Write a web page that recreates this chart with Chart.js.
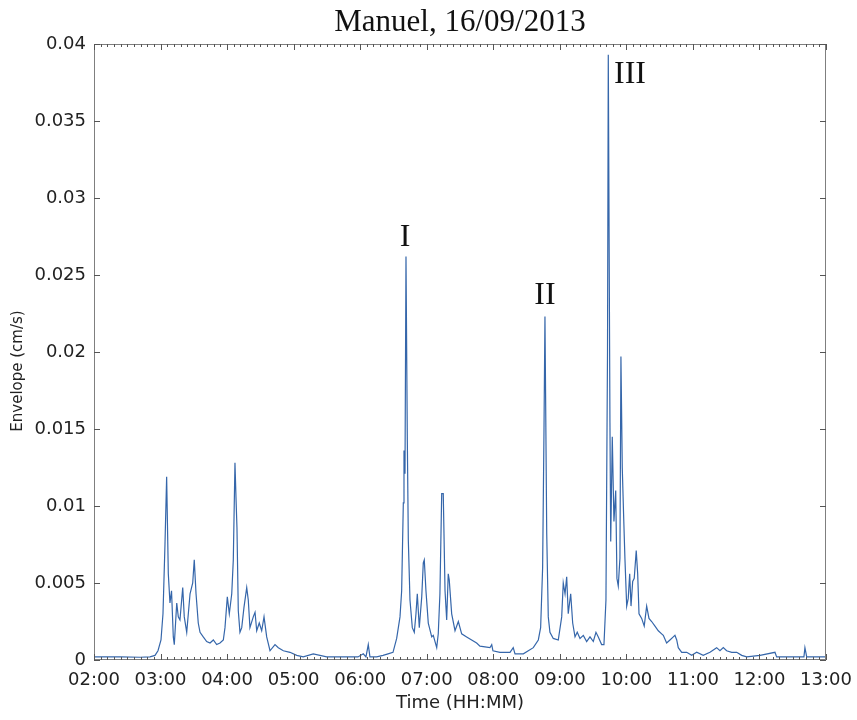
<!DOCTYPE html>
<html>
<head>
<meta charset="utf-8">
<script src="https://cdn.jsdelivr.net/npm/chart.js@4.4.1/dist/chart.umd.min.js"></script>
<style>
html, body { margin: 0; padding: 0; background: #fff; }
canvas { display: block; }
</style>
</head>
<body>
<canvas id="graficoEnvolvente" width="857" height="720"></canvas>
<script>
// tiempo en minutos desde las 00:00
const minutos = [
  120, 143.4, 161.5, 170.5, 175.0, 177.7, 180.4, 182.2, 184.0, 185.5,
  187.0, 188.5, 189.9, 191.5, 192.4, 194.6, 196.0, 197.5, 200.0, 201.4,
  203.6, 206.6, 209.0, 210.4, 212.0, 214.0, 215.6, 218.5, 221.6, 224.6,
  227.6, 230.6, 233.6, 236.6, 238.1, 240.2, 242.0, 244.2, 245.6, 247.1,
  248.0, 248.9, 250.1, 251.6, 253.2, 255.2, 257.7, 259.1, 260.6, 263.6,
  265.2, 266.7, 269.0, 271.2, 273.3, 275.7, 278.7, 283.2, 286.2, 290.7,
  296.7, 302.8, 308.7, 317.7, 329.8, 344.8, 358.0, 362.8, 365.2, 367.3,
  368.8, 374.9, 380.6, 385.1, 389.6, 392.9, 395.9, 397.4, 398.9, 399.5,
  400.4, 401.3, 402.5, 403.4, 404.9, 407.0, 408.8, 410.3, 411.5, 413.3,
  415.5, 416.9, 417.8, 419.3, 421.4, 424.5, 425.9, 429.0, 430.4, 431.9,
  433.5, 434.9, 436.5, 438.0, 439.4, 440.3, 442.5, 445.5, 448.5, 451.5,
  456.0, 460.5, 465.0, 468.0, 477.0, 478.6, 479.7, 486.0, 495.1, 498.0,
  499.6, 507.1, 511.6, 516.1, 520.6, 522.7, 524.5, 525.7, 526.6, 528.2,
  529.6, 531.1, 534.1, 538.6, 541.7, 543.1, 544.7, 546.2, 547.6, 549.8,
  551.6, 553.7, 555.7, 558.2, 561.2, 564.2, 567.2, 570.2, 572.6, 574.7,
  577.7, 579.8, 581.6, 583.0, 583.7, 585.2, 585.9, 587.3, 588.8, 590.4,
  591.5, 592.7, 594.2, 595.1, 596.3, 597.6, 598.7, 600.3, 601.7, 603.0,
  604.2, 605.7, 607.1, 608.9, 610.2, 611.4, 613.8, 616.1, 618.3, 620.4,
  622.8, 625.8, 628.8, 631.8, 633.3, 636.3, 639.3, 642.3, 643.8, 645.4,
  646.8, 649.9, 654.4, 658.9, 663.4, 669.3, 675.4, 681.4, 684.4, 687.4,
  690.4, 695.0, 699.5, 704.0, 708.5, 720.5, 734.0, 735.5, 750.2, 760.1,
  761.0, 762.6, 780
];

// envolvente (cm/s)
const envolvente = [
  .0002, .0002, .00018, .0002, .0003, .0006, .0013, .003, .0075, .0119,
  .0056, .0037, .0045, .0015, .001, .0037, .0028, .0026, .0047, .0028,
  .0018, .0043, .005, .0065, .0043, .0024, .0018, .0015, .0012, .0011,
  .0013, .001, .0011, .0013, .0021, .0041, .003, .0043, .0065, .0128,
  .0106, .0086, .0032, .0018, .0021, .0034, .0047, .0039, .0021, .0028,
  .0031, .0019, .0024, .0019, .0028, .0015, .0006, .001, .0008, .0006,
  .0005, .0003, .0002, .0004, .0002, .0002, .0002, .0004, .0002, .001,
  .0002, .0002, .0003, .0004, .0005, .0014, .0028, .0045, .0102, .0136,
  .0121, .0262, .0143, .0078, .0039, .0021, .0018, .003, .0043, .0021,
  .0041, .0063, .0065, .0045, .0024, .0015, .0016, .0008, .0017, .0043,
  .0108, .0108, .0045, .0026, .0056, .0052, .003, .0019, .0025, .0017,
  .0015, .0013, .0011, .0009, .0008, .001, .0006, .0005, .0005, .0008,
  .0004, .0004, .0006, .0008, .0013, .0021, .006, .0147, .0223, .0082,
  .0028, .0018, .0014, .0013, .0028, .005, .0043, .0054, .003, .0043,
  .0024, .0015, .0018, .0014, .0016, .0012, .0015, .0012, .0018, .0015,
  .001, .001, .0039, .02, .0393, .0154, .0077, .0145, .009, .011,
  .0053, .0048, .0066, .0197, .0125, .0092, .0066, .0035, .004, .0056,
  .0035, .0051, .0053, .0071, .0056, .003, .0027, .0022, .0035, .0027,
  .0025, .0022, .0019, .0017, .0016, .0011, .0013, .0015, .0016, .0013,
  .0008, .0005, .0005, .0003, .0005, .0003, .0005, .0008, .0006, .0008,
  .0006, .0005, .0005, .0003, .0002, .0003, .0005, .0002, .0002, .0002,
  .0008, .0002, .0002
];

const ticksY = [0, 0.005, 0.01, 0.015, 0.02, 0.025, 0.03, 0.035, 0.04];
const minX = 120, maxX = 780, pasoMayor = 60, pasoMenor = 6;

// etiquetas de los eventos
const eventos = ['I', 'II', 'III'];
const eventosX = [400.4, 526.6, 603.3];
const eventosY = [0.0269, 0.0231, 0.0375];

const titulo = 'Manuel, 16/09/2013';
const tituloY = 'Envelope (cm/s)';

function hhmm(m){
    const h = Math.floor(m / 60), mm = Math.round(m % 60);
    return String(h).padStart(2, '0') + ':' + String(mm).padStart(2, '0');
}

const marcoPlugin = {
    id: 'marco',
    afterDatasetsDraw(chart){
        const {ctx, chartArea: a, scales: {x, y}} = chart;
        ctx.save();
        ctx.strokeStyle = '#7f7f7f';
        ctx.lineWidth = 1;
        ctx.strokeRect(a.left + 0.5, a.top + 0.5, a.right - a.left - 1, a.bottom - a.top - 1);

        ctx.strokeStyle = '#555';
        ctx.beginPath();
        for(let m = minX; m <= maxX; m += pasoMenor){
            const px = Math.round(x.getPixelForValue(m)) + 0.5;
            const largo = (m % pasoMayor === 0) ? 6 : 3;
            ctx.moveTo(px, a.bottom); ctx.lineTo(px, a.bottom - largo);
            ctx.moveTo(px, a.top); ctx.lineTo(px, a.top + largo);
        }
        ticksY.forEach(v => {
            const py = Math.round(y.getPixelForValue(v)) + 0.5;
            ctx.moveTo(a.left, py); ctx.lineTo(a.left + 6, py);
            ctx.moveTo(a.right, py); ctx.lineTo(a.right - 6, py);
        });
        ctx.stroke();

        /* titulo y etiquetas */
        ctx.fillStyle = '#111';
        ctx.textAlign = 'center';
        ctx.textBaseline = 'alphabetic';
        ctx.font = '31px "Liberation Serif", "DejaVu Serif", serif';
        ctx.fillText(titulo, (a.left + a.right) / 2, 31);
        ctx.font = '32px "Liberation Serif", "DejaVu Serif", serif';
        eventos.forEach((t, i) => {
            ctx.fillText(t, x.getPixelForValue(eventosX[i]), y.getPixelForValue(eventosY[i]));
        });

        // titulo del eje Y
        ctx.fillStyle = '#222';
        ctx.font = '15px "DejaVu Sans", sans-serif';
        ctx.textBaseline = 'middle';
        ctx.translate(18, 371);
        ctx.rotate(-Math.PI / 2);
        ctx.fillText(tituloY, 0, 0);
        ctx.restore();
    }
};

new Chart(document.getElementById('graficoEnvolvente'), {
    type: 'line',
    data: {
        datasets: [{
            label: 'Envelope',
            data: minutos.map((m, i) => ({x: m, y: envolvente[i]})),
            borderColor: '#3566aa',
            borderWidth: 1.2,
            pointRadius: 0,
            tension: 0,
            fill: false
        }]
    },
    options: {
        responsive: false,
        animation: false,
        layout: {
            padding: {top: 44, right: 31, bottom: 0, left: 0}
        },
        plugins: {
            legend: {display: false},
            tooltip: {enabled: false},
            title: {display: false}
        },
        scales: {
            x: {
                type: 'linear',
                min: minX,
                max: maxX,
                afterFit: s => { s.height = 60; s.paddingLeft = 0; s.paddingRight = 0; },
                grid: {display: false, drawTicks: false},
                border: {display: false},
                ticks: {
                    stepSize: pasoMayor,
                    padding: 10,
                    maxRotation: 0,
                    color: '#222',
                    font: {family: '"DejaVu Sans", sans-serif', size: 18},
                    callback: v => hhmm(v)
                },
                title: {
                    display: true,
                    text: 'Time (HH:MM)',
                    color: '#222',
                    padding: {top: 0, bottom: 6},
                    font: {family: '"DejaVu Sans", sans-serif', size: 18}
                }
            },
            y: {
                min: 0,
                max: 0.04,
                afterFit: s => { s.width = 94; s.paddingTop = 0; s.paddingBottom = 0; },
                grid: {display: false, drawTicks: false},
                border: {display: false},
                ticks: {
                    stepSize: 0.005,
                    padding: 8,
                    color: '#222',
                    font: {family: '"DejaVu Sans", sans-serif', size: 18},
                    callback: v => String(+v.toFixed(3))
                },
                title: {display: false}
            }
        }
    },
    plugins: [marcoPlugin]
});
</script>
</body>
</html>
